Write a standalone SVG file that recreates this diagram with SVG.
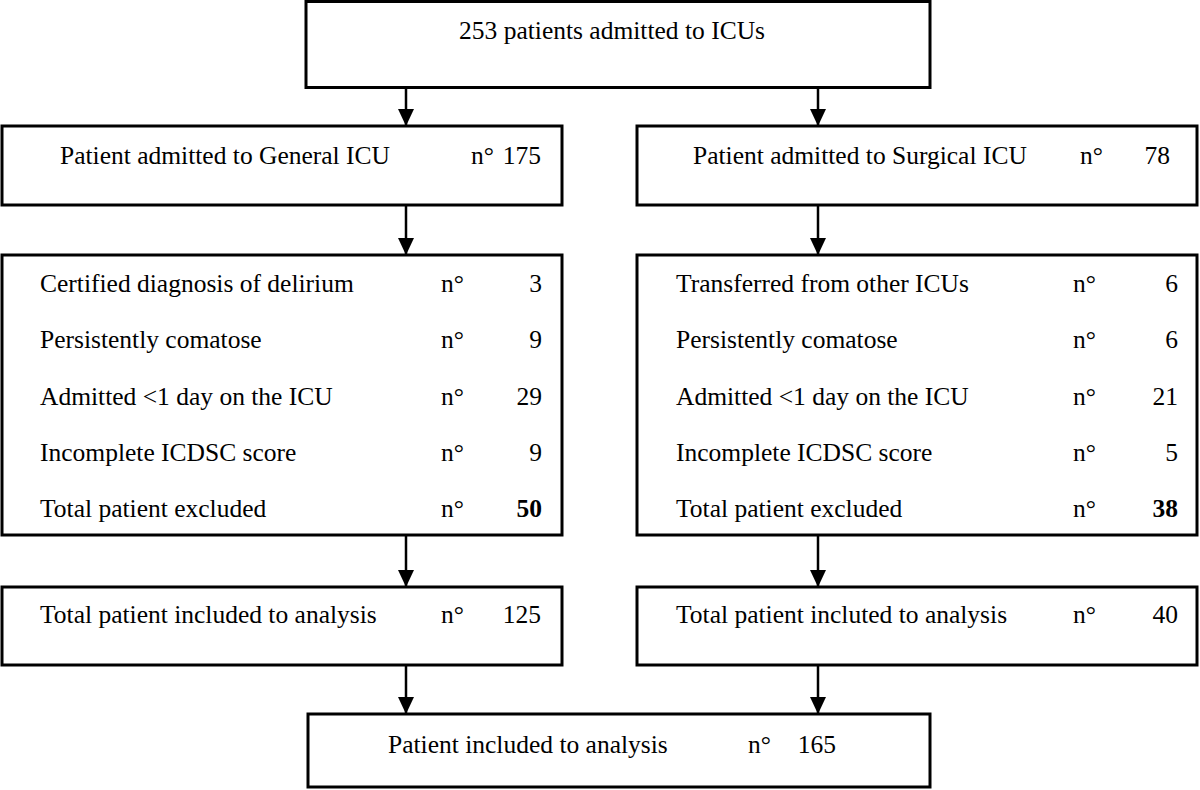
<svg xmlns="http://www.w3.org/2000/svg" width="1200" height="790" viewBox="0 0 1200 790">
<style>
.box{fill:#fff;stroke:#000;stroke-width:3}
text{font-family:"Liberation Serif","Times New Roman",serif;font-size:25.5px;fill:#000}
.r{text-anchor:end}
.b{font-weight:bold}
.conn line{stroke:#000;stroke-width:2.5}
</style>
<defs>
<marker id="ah" viewBox="0 0 17 16" refX="17" refY="8" markerWidth="17" markerHeight="16" markerUnits="userSpaceOnUse" orient="auto">
<path d="M0,0 L17,8 L0,16 Z" fill="#000"/>
</marker>
</defs>
<g class="conn">
<line x1="406" y1="87" x2="406" y2="126" marker-end="url(#ah)"/>
<line x1="818" y1="87" x2="818" y2="126" marker-end="url(#ah)"/>
<line x1="406" y1="205" x2="406" y2="255" marker-end="url(#ah)"/>
<line x1="818" y1="205" x2="818" y2="255" marker-end="url(#ah)"/>
<line x1="406" y1="535" x2="406" y2="587" marker-end="url(#ah)"/>
<line x1="818" y1="535" x2="818" y2="587" marker-end="url(#ah)"/>
<line x1="406" y1="665" x2="406" y2="714" marker-end="url(#ah)"/>
<line x1="818" y1="665" x2="818" y2="714" marker-end="url(#ah)"/>
</g>
<g id="top">
<rect class="box" x="306" y="1.5" width="624" height="86"/>
<text x="612" y="39" text-anchor="middle">253 patients admitted to ICUs</text>
</g>
<g id="general">
<rect class="box" x="2" y="126" width="560" height="79"/>
<text x="60" y="164">Patient admitted to General ICU</text>
<text x="471" y="164">n°</text>
<text x="541" y="164" class="r">175</text>
</g>
<g id="surgical">
<rect class="box" x="637" y="126" width="560" height="79"/>
<text x="693" y="164">Patient admitted to Surgical ICU</text>
<text x="1080" y="164">n°</text>
<text x="1170" y="164" class="r">78</text>
</g>
<g id="general-excl">
<rect class="box" x="2" y="255" width="560" height="280"/>
<text x="40" y="292">Certified diagnosis of delirium</text><text x="441" y="292">n°</text><text x="542" y="292" class="r">3</text>
<text x="40" y="348">Persistently comatose</text><text x="441" y="348">n°</text><text x="542" y="348" class="r">9</text>
<text x="40" y="405">Admitted &lt;1 day on the ICU</text><text x="441" y="405">n°</text><text x="542" y="405" class="r">29</text>
<text x="40" y="461">Incomplete ICDSC score</text><text x="441" y="461">n°</text><text x="542" y="461" class="r">9</text>
<text x="40" y="517">Total patient excluded</text><text x="441" y="517">n°</text><text x="542" y="517" class="r b">50</text>
</g>
<g id="surgical-excl">
<rect class="box" x="637" y="255" width="560" height="280"/>
<text x="676" y="292">Transferred from other ICUs</text><text x="1073" y="292">n°</text><text x="1178" y="292" class="r">6</text>
<text x="676" y="348">Persistently comatose</text><text x="1073" y="348">n°</text><text x="1178" y="348" class="r">6</text>
<text x="676" y="405">Admitted &lt;1 day on the ICU</text><text x="1073" y="405">n°</text><text x="1178" y="405" class="r">21</text>
<text x="676" y="461">Incomplete ICDSC score</text><text x="1073" y="461">n°</text><text x="1178" y="461" class="r">5</text>
<text x="676" y="517">Total patient excluded</text><text x="1073" y="517">n°</text><text x="1178" y="517" class="r b">38</text>
</g>
<g id="general-incl">
<rect class="box" x="2" y="587" width="560" height="78"/>
<text x="40" y="623">Total patient included to analysis</text><text x="441" y="623">n°</text><text x="541" y="623" class="r">125</text>
</g>
<g id="surgical-incl">
<rect class="box" x="637" y="587" width="560" height="78"/>
<text x="676" y="623">Total patient incluted to analysis</text><text x="1073" y="623">n°</text><text x="1178" y="623" class="r">40</text>
</g>
<g id="total">
<rect class="box" x="308" y="714" width="622" height="73"/>
<text x="388" y="753">Patient included to analysis</text><text x="748" y="753">n°</text><text x="836" y="753" class="r">165</text>
</g>
</svg>
